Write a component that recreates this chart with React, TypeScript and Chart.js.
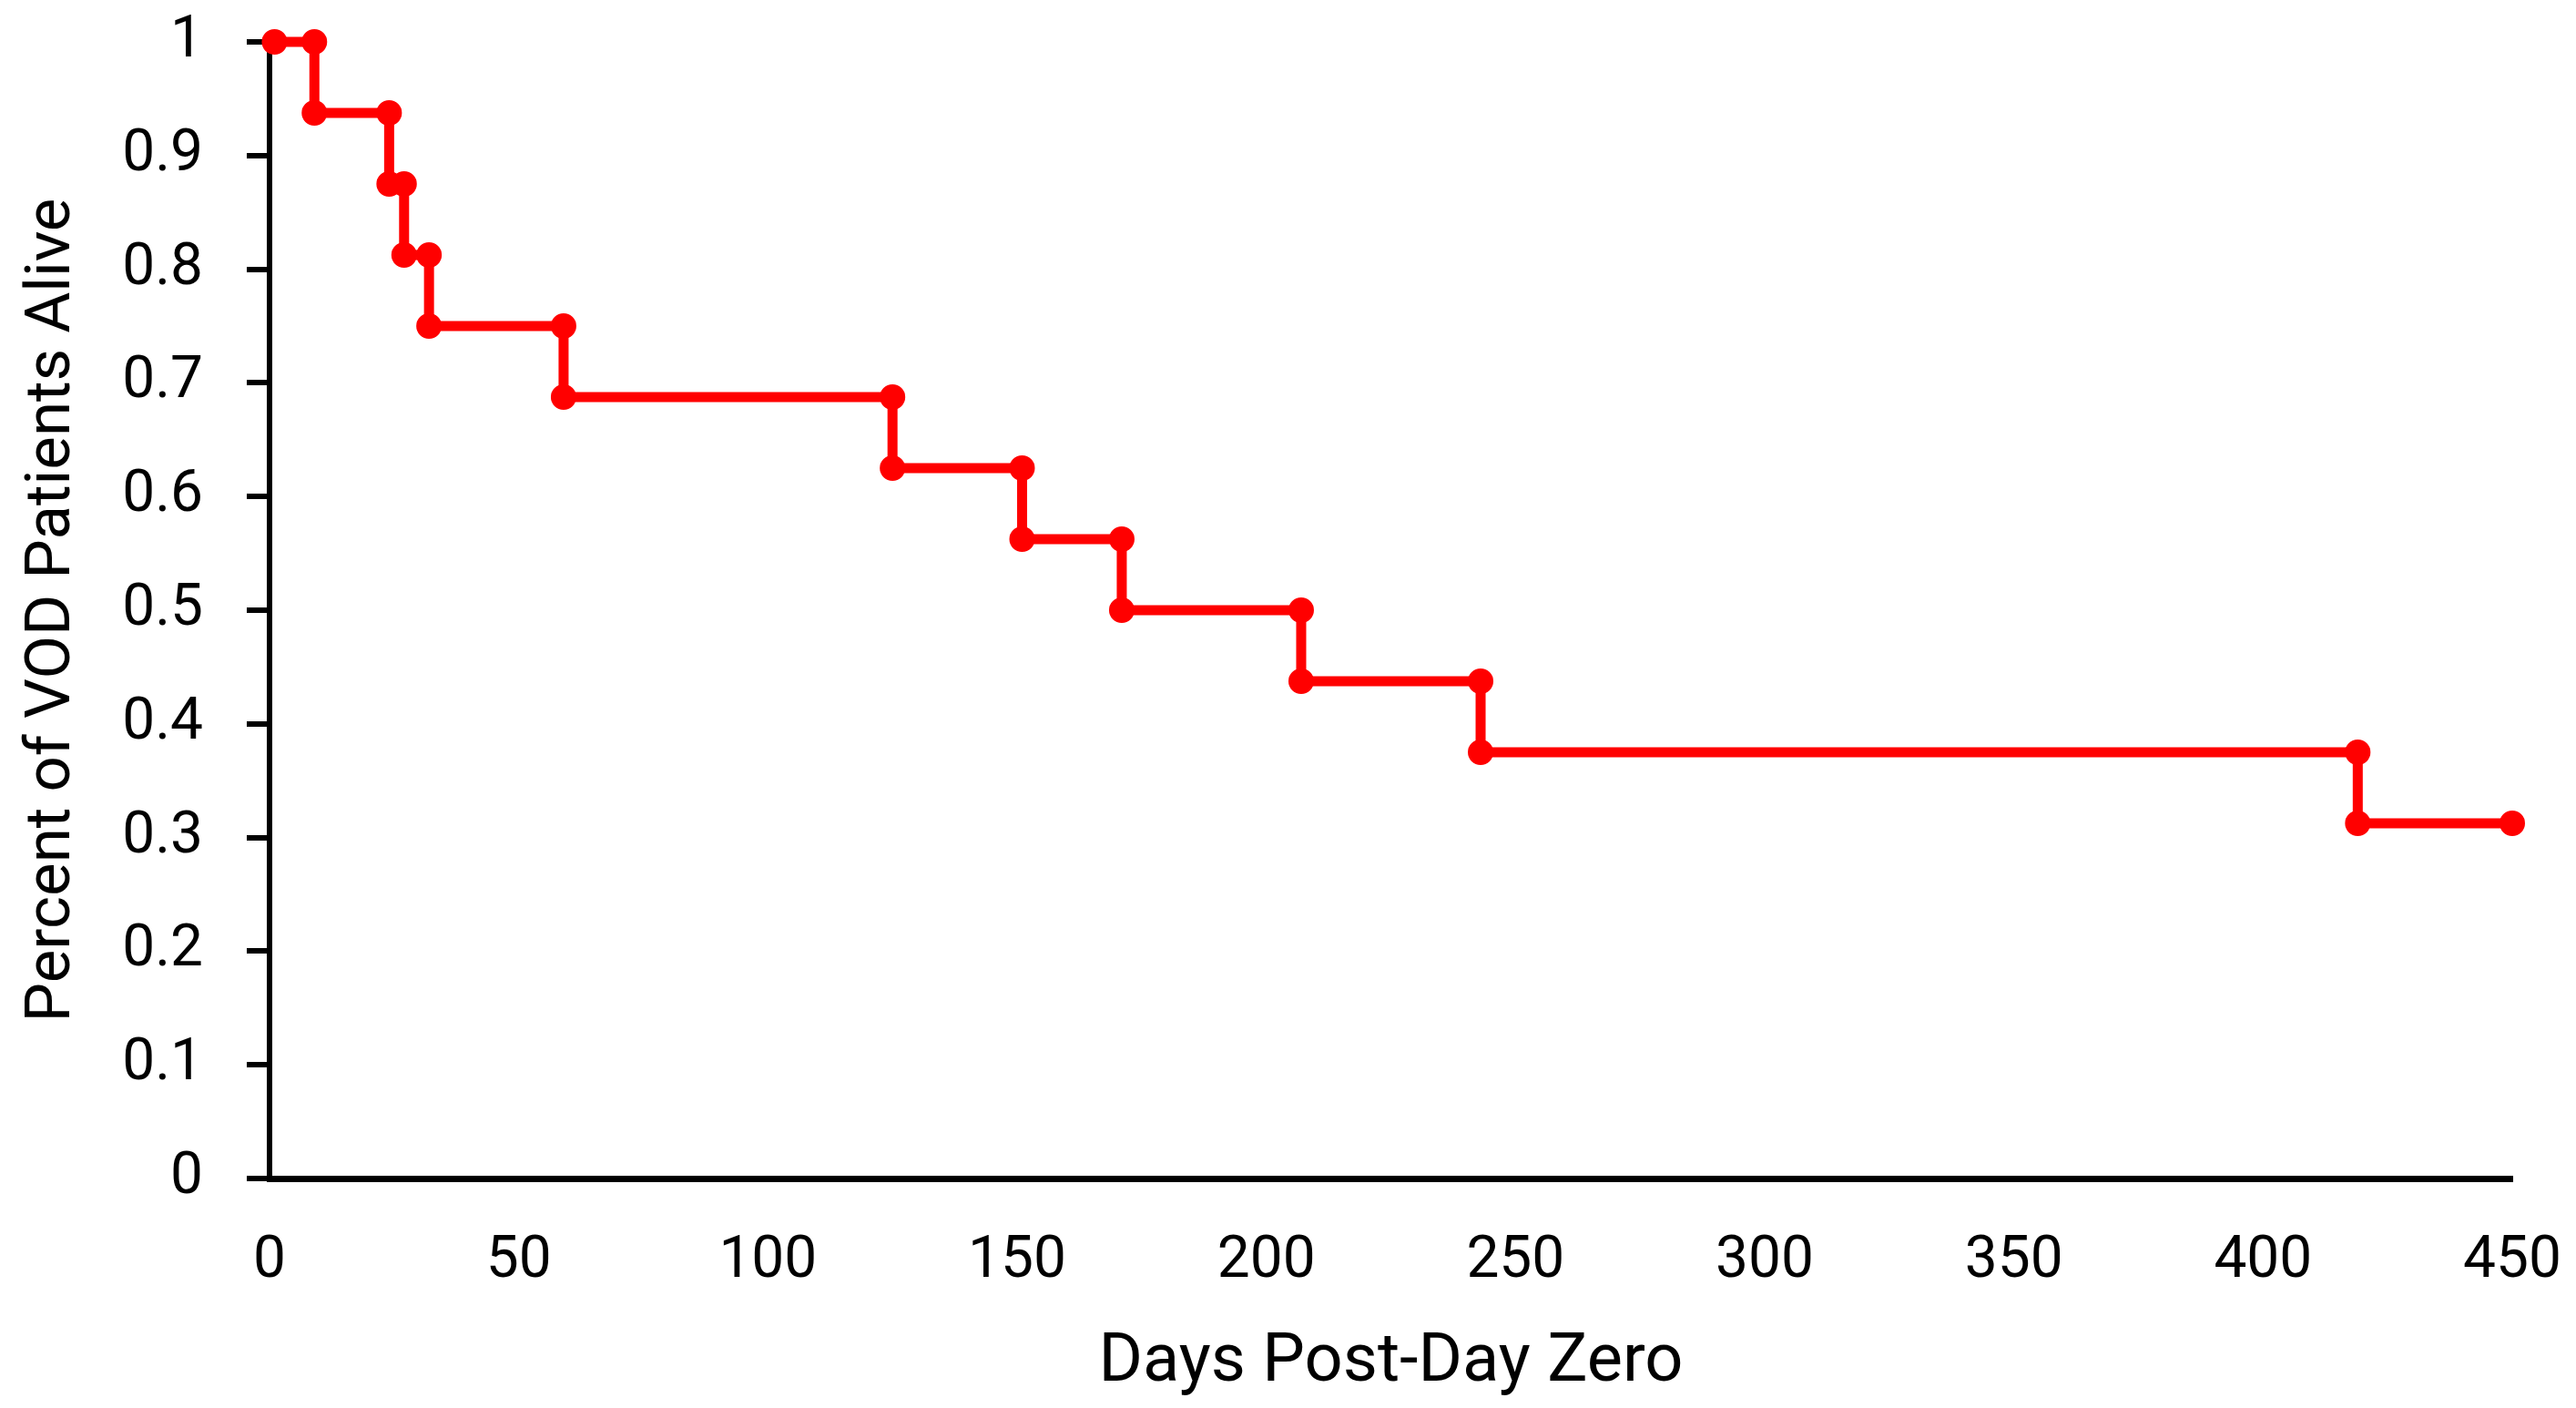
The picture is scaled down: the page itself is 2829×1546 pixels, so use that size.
import React, { useEffect, useRef } from 'react';
import { Chart, registerables } from 'chart.js';

Chart.register(...registerables);

// Kaplan-Meier style steps: each drop is two points on the same day
const days = [1, 9, 9, 24, 24, 27, 27, 32, 32, 59, 59, 125, 125, 151, 151, 171, 171, 207, 207, 243, 243, 419, 419, 450];
const survival = [
  1, 1, 0.9375, 0.9375, 0.875, 0.875, 0.8125, 0.8125, 0.75, 0.75, 0.6875, 0.6875,
  0.625, 0.625, 0.5625, 0.5625, 0.5, 0.5, 0.4375, 0.4375, 0.375, 0.375, 0.3125, 0.3125,
];
const xTitle = 'Days Post-Day Zero';
const yTitle = 'Percent of VOD Patients Alive';

const FONT = 'Roboto, "Noto Sans", sans-serif';

const App: React.FC = () => {
  const canvasRef = useRef<HTMLCanvasElement>(null);

  useEffect(() => {
    document.body.style.margin = '0';
    if (!canvasRef.current) return;

    const chart = new Chart(canvasRef.current, {
      type: 'scatter',
      data: {
        datasets: [
          {
            data: days.map((d, i) => ({ x: d, y: survival[i] })),
            showLine: true,
            borderColor: '#ff0000',
            backgroundColor: '#ff0000',
            borderWidth: 11,
            pointRadius: 13,
            pointBorderWidth: 2,
            pointBackgroundColor: '#ff0000',
            pointBorderColor: '#ff0000',
            clip: false,
          },
        ],
      },
      options: {
        animation: false,
        responsive: true,
        maintainAspectRatio: false,
        devicePixelRatio: 1,
        layout: { padding: { top: 46, right: 70, left: 0, bottom: 0 } },
        plugins: {
          legend: { display: false },
          tooltip: { enabled: false },
        },
        scales: {
          x: {
            type: 'linear',
            min: 0,
            max: 450,
            ticks: {
              stepSize: 50,
              color: '#000',
              padding: 54,
              maxRotation: 0,
              font: { family: FONT, size: 64 },
            },
            grid: { drawOnChartArea: false, drawTicks: false },
            border: { color: '#000', width: 7 },
            title: {
              display: true,
              text: xTitle,
              color: '#000',
              font: { family: FONT, size: 74 },
              padding: { top: 0, bottom: 4 },
            },
            afterFit: (scale: any) => {
              scale.height = 252;
              // let the layout padding alone decide the plot edges
              scale.paddingLeft = 0;
              scale.paddingRight = 0;
            },
          },
          y: {
            type: 'linear',
            min: 0,
            max: 1,
            ticks: {
              stepSize: 0.1,
              color: '#000',
              padding: 48,
              font: { family: FONT, size: 64 },
              callback: (v: any) => String(Math.round(Number(v) * 10) / 10),
            },
            grid: {
              drawOnChartArea: false,
              drawTicks: true,
              tickLength: 25,
              color: '#000',
              lineWidth: 6,
            },
            border: { color: '#000', width: 6 },
            title: {
              display: true,
              text: yTitle,
              color: '#000',
              font: { family: FONT, size: 69 },
              padding: { top: 17, bottom: 0 },
            },
            afterFit: (scale: any) => {
              scale.width = 296;
              scale.paddingTop = 0;
              scale.paddingBottom = 0;
            },
          },
        },
      },
    });

    return () => {
      chart.destroy();
    };
  }, []);

  return (
    <div style={{ width: 2829, height: 1546, position: 'relative', background: '#fff' }}>
      <canvas ref={canvasRef}></canvas>
    </div>
  );
};

export default App;
